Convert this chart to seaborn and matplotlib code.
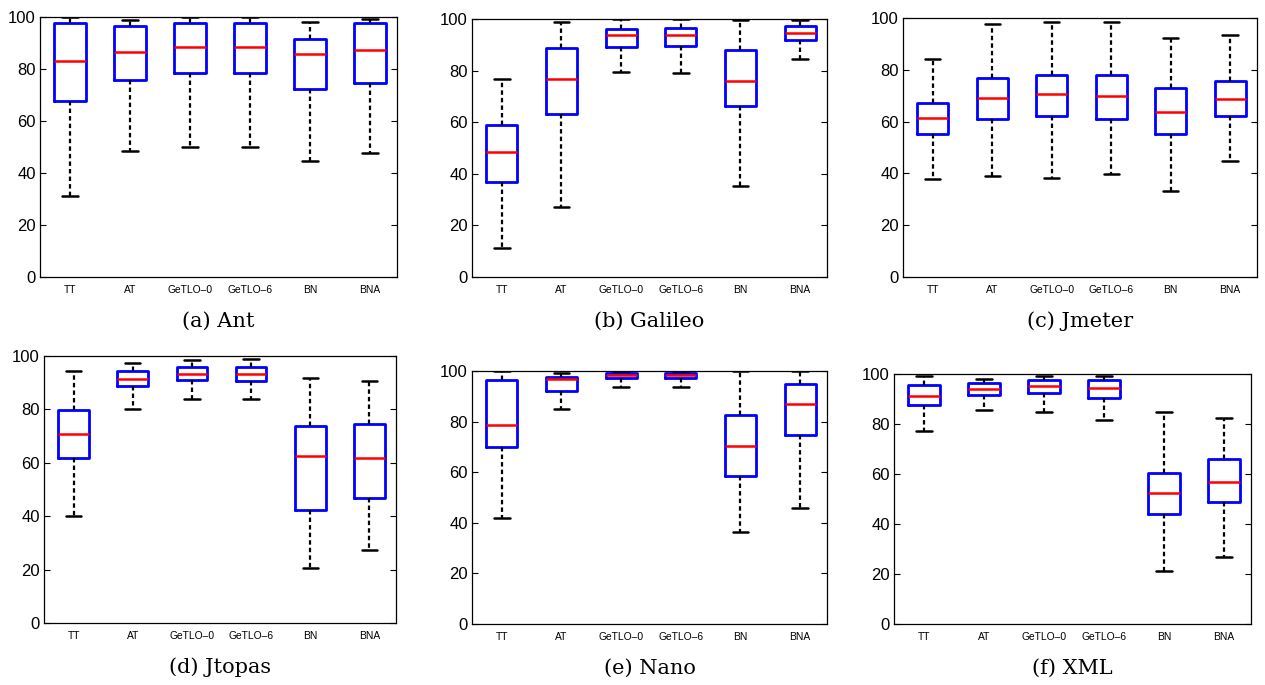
import numpy as np
import pandas as pd
import matplotlib
matplotlib.use("Agg")
import matplotlib.pyplot as plt
import seaborn as sns

# Datos: por metodo [min, q1, mediana, q3, max]
metodos = ["TT", "AT", "GeTLO–0", "GeTLO–6", "BN", "BNA"]

ant = [[31.2, 67.6, 83.2, 97.8, 100.0],
       [48.5, 75.9, 86.7, 96.4, 98.8],
       [50.1, 78.3, 88.3, 97.6, 100.0],
       [50.1, 78.3, 88.3, 97.6, 100.0],
       [44.7, 72.3, 85.6, 91.7, 98.1],
       [47.8, 74.7, 87.3, 97.6, 99.4]]

galileo = [[11.1, 36.9, 48.3, 59.0, 76.9],
           [27.2, 63.2, 76.9, 88.9, 98.8],
           [79.4, 89.3, 93.8, 96.3, 100.0],
           [79.1, 89.5, 93.8, 96.5, 100.0],
           [35.2, 66.2, 76.1, 88.1, 99.7],
           [84.6, 92.0, 94.7, 97.3, 99.7]]

jmeter = [[38.0, 55.1, 61.2, 67.1, 84.1],
          [38.9, 61.1, 69.3, 76.9, 97.6],
          [38.4, 62.0, 70.8, 77.9, 98.3],
          [39.6, 60.9, 69.9, 77.8, 98.3],
          [33.3, 55.4, 63.8, 73.1, 92.2],
          [44.6, 62.1, 68.8, 75.7, 93.4]]

jtopas = [[40.0, 61.9, 70.9, 79.7, 94.5],
          [80.1, 88.6, 91.4, 94.3, 97.4],
          [83.9, 90.9, 93.4, 95.9, 98.4],
          [83.9, 90.6, 93.4, 95.9, 98.8],
          [20.6, 42.4, 62.5, 73.9, 91.8],
          [27.5, 46.9, 61.7, 74.7, 90.8]]

nano = [[42.0, 70.0, 78.7, 96.3, 100.0],
        [84.9, 92.2, 96.8, 97.5, 99.3],
        [93.8, 97.1, 98.4, 99.3, 100.0],
        [93.8, 97.1, 98.4, 99.3, 100.0],
        [36.5, 58.5, 70.3, 82.6, 100.0],
        [46.0, 74.9, 87.1, 95.0, 100.0]]

xml = [[77.2, 87.7, 91.2, 95.7, 99.1],
       [85.5, 91.6, 94.1, 96.5, 98.1],
       [85.0, 92.4, 95.3, 97.6, 99.1],
       [81.7, 90.4, 94.6, 97.5, 99.1],
       [21.4, 44.0, 52.5, 60.6, 84.9],
       [27.0, 48.7, 56.8, 66.1, 82.6]]

titulos = ["(a) Ant", "(b) Galileo", "(c) Jmeter", "(d) Jtopas", "(e) Nano", "(f) XML"]
paneles = [ant, galileo, jmeter, jtopas, nano, xml]

# posiciones de los ejes en pixeles (izq, arriba, der, abajo)
cajas_px = [(40, 17, 397, 277), (472, 19, 827, 277), (903, 18, 1257, 277),
            (44, 356, 396, 623), (472, 371, 827, 624), (894, 374, 1251, 624)]
W, H = 1265, 685

sns.set_style("white")
plt.rcParams["font.family"] = ["Liberation Sans", "DejaVu Sans"]
plt.rcParams["text.color"] = "black"
plt.rcParams["xtick.color"] = "black"
plt.rcParams["ytick.color"] = "black"

fig = plt.figure(figsize=(W / 100, H / 100), dpi=100)

for valores, titulo, (l, t, r, b) in zip(paneles, titulos, cajas_px):
    ax = fig.add_axes([l / W, 1 - b / H, (r - l) / W, (b - t) / H])

    # dataframe largo: 5 valores por metodo reproducen min, cuartiles y max
    df = pd.DataFrame([(m, v) for m, fila in zip(metodos, valores) for v in fila],
                      columns=["metodo", "valor"])

    sns.boxplot(data=df, x="metodo", y="valor", order=metodos, ax=ax,
                whis=(0, 100), width=0.52, fill=False, color="blue",
                linewidth=2.0, showfliers=False,
                boxprops=dict(color="blue", linewidth=2.0),
                medianprops=dict(color="red", linewidth=1.8),
                whiskerprops=dict(color="black", linewidth=1.6,
                                  linestyle=(0, (2.0, 1.4))),
                capprops=dict(color="black", linewidth=1.8))

    ax.set_xlim(-0.5, 5.45)
    ax.set_ylim(0, 100)
    ax.set_yticks([0, 20, 40, 60, 80, 100])
    ax.set_xlabel("")
    ax.set_ylabel("")
    ax.tick_params(axis="y", direction="in", left=True, right=True, length=4,
                   width=0.8, labelsize=12, pad=3, labelcolor="black")
    ax.tick_params(axis="x", length=0, labelsize=7.4, pad=6, labelcolor="black")
    for s in ax.spines.values():
        s.set_color("black")
        s.set_linewidth(0.9)
    # pie de cada panel, 44 px debajo del eje
    ax.text(0.5, -44 / (b - t), titulo, transform=ax.transAxes, ha="center",
            va="center", fontsize=15, family=["DejaVu Serif"], color="black")

fig.savefig("out.png", dpi=100)
